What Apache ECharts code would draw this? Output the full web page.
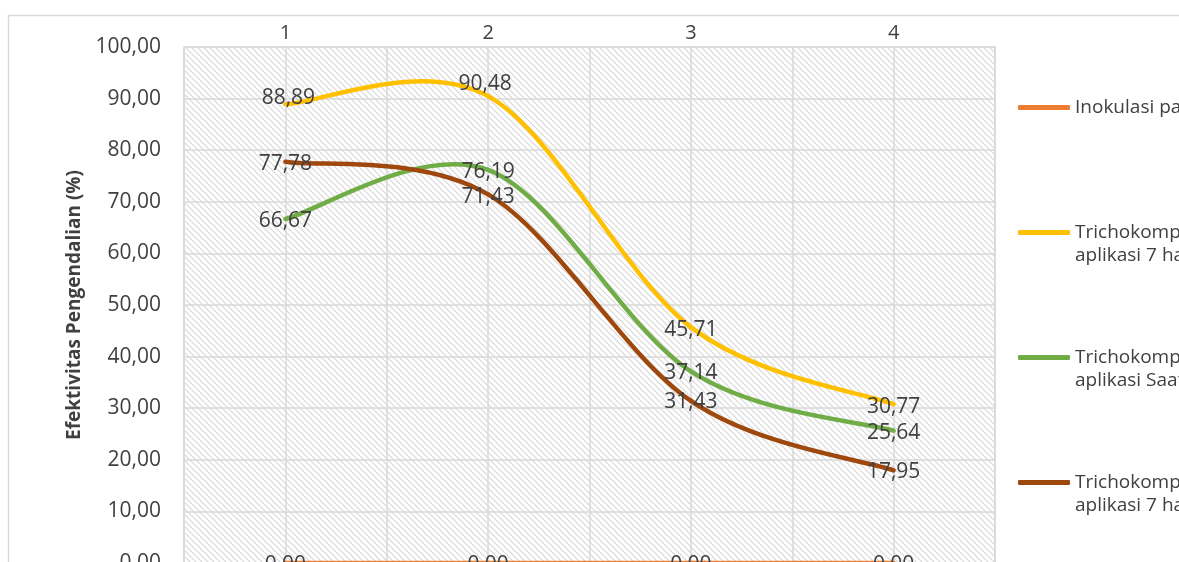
<!DOCTYPE html>
<html>
<head>
<meta charset="utf-8">
<script src="https://cdn.jsdelivr.net/npm/echarts@6/dist/echarts.min.js"></script>
<style>
  html, body { margin: 0; padding: 0; background: #fff; }
  #chart { width: 1179px; height: 562px; }
</style>
</head>
<body>
<div id="chart"></div>
<script>
// Observation periods (top axis)
const categories = ['1', '2', '3', '4'];

// Series names (legend)
const seriesNames = [
  'Inokulasi patogen',
  'Trichokompos +\naplikasi 7 hari sebelum inokulasi',
  'Trichokompos +\naplikasi Saat inokulasi',
  'Trichokompos +\naplikasi 7 hari setelah inokulasi'
];

// Control effectiveness (%)
const inokulasi = [0, 0, 0, 0];
const sebelum7 = [88.89, 90.48, 45.71, 30.77];
const saat = [66.67, 76.19, 37.14, 25.64];
const setelah7 = [77.78, 71.43, 31.43, 17.95];

// Y axis tick range
const yMin = 0, yMax = 100, yStep = 10;

const colors = ['#ED7D31', '#FFC000', '#70AD47', '#9E480E'];
const FONT = '"Open Sans", "Noto Sans", sans-serif';
const TEXT_COLOR = '#404040';

// Diagonal hatch tile for the plot background
function hatchTile() {
  const c = document.createElement('canvas');
  c.width = 6; c.height = 6;
  const g = c.getContext('2d');
  g.fillStyle = '#ffffff';
  g.fillRect(0, 0, 6, 6);
  g.strokeStyle = '#d8d8d8';
  g.lineWidth = 1.2;
  g.beginPath();
  g.moveTo(-1, -1); g.lineTo(7, 7);
  g.moveTo(-7, -1); g.lineTo(1, 7);
  g.moveTo(5, -1); g.lineTo(13, 7);
  g.stroke();
  return c;
}

function fmt(v) { return v.toFixed(2).replace('.', ','); }

// Per-point label nudges (px), by series then point
const labelOffsets = [
  [[0, 2], [0, 2], [0, 2], [0, 2]],
  [[3, -6], [-3, -12], [0, 3], [0, 3]],
  [[0, 2], [0, 2], [0, 2], [0, 2]],
  [[0, 2], [0, 3], [0, 1], [0, 2]]
];

const allData = [inokulasi, sebelum7, saat, setelah7];

// Cardinal-style cubic segments between neighbouring points (tension 1/6),
// endpoints reuse themselves as the outer neighbour.
function smoothSegments(pts) {
  const segs = [];
  for (let k = 0; k < pts.length - 1; k++) {
    const p0 = pts[Math.max(k - 1, 0)];
    const p1 = pts[k];
    const p2 = pts[k + 1];
    const p3 = pts[Math.min(k + 2, pts.length - 1)];
    segs.push({
      x1: p1[0], y1: p1[1],
      cpx1: p1[0] + (p2[0] - p0[0]) / 6, cpy1: p1[1] + (p2[1] - p0[1]) / 6,
      cpx2: p2[0] - (p3[0] - p1[0]) / 6, cpy2: p2[1] - (p3[1] - p1[1]) / 6,
      x2: p2[0], y2: p2[1]
    });
  }
  return segs;
}

const series = allData.map((vals, si) => ({
  name: seriesNames[si],
  type: 'custom',
  coordinateSystem: 'cartesian2d',
  clip: false,
  z: 2,
  encode: { x: 0, y: 1 },
  itemStyle: { color: colors[si] },
  data: vals.map((v, i) => [Number(categories[i]), v]),
  renderItem: (params, api) => {
    const i = params.dataIndex;
    const children = [];
    if (i === 0) {
      const pts = vals.map((v, k) => api.coord([Number(categories[k]), v]));
      smoothSegments(pts).forEach(s => {
        children.push({
          type: 'bezierCurve',
          shape: s,
          z2: 1 + si,
          style: { fill: null, stroke: colors[si], lineWidth: 4.5, lineCap: 'round' }
        });
      });
    }
    const p = api.coord([api.value(0), api.value(1)]);
    const off = labelOffsets[si][i];
    children.push({
      type: 'text',
      x: p[0] + off[0],
      y: p[1] + off[1],
      z2: 100,
      style: {
        text: fmt(api.value(1)),
        fill: TEXT_COLOR,
        font: '21px ' + FONT,
        align: 'center',
        verticalAlign: 'middle'
      }
    });
    return { type: 'group', children: children };
  }
}));

const chart = echarts.init(document.getElementById('chart'), null, { renderer: 'canvas' });

chart.setOption({
  animation: false,
  backgroundColor: '#ffffff',
  graphic: [{
    type: 'rect',
    silent: true,
    z: -10,
    shape: { x: 8.5, y: 15.5, width: 1300, height: 700 },
    style: { fill: 'none', stroke: '#d9d9d9', lineWidth: 1.5 }
  }],
  grid: {
    left: 184, right: 184, top: 47, bottom: -1,
    outerBoundsMode: 'none',
    containLabel: false,
    show: true,
    backgroundColor: { image: hatchTile(), repeat: 'repeat' },
    borderColor: '#d9d9d9',
    borderWidth: 1.5
  },
  legend: {
    orient: 'vertical',
    left: 1018,
    top: 73,
    padding: 0,
    itemGap: 56,
    itemWidth: 52,
    itemHeight: 5,
    icon: 'roundRect',
    // a leading blank line keeps the first text line level with the icon
    formatter: name => name.indexOf('\n') < 0 ? '\n' + name + '\n ' : '\n' + name,
    textStyle: {
      fontFamily: FONT,
      fontSize: 19,
      color: TEXT_COLOR,
      lineHeight: 23
    },
    data: seriesNames.map((n, i) => ({ name: n, itemStyle: { color: colors[i] } }))
  },
  xAxis: {
    type: 'value',
    position: 'top',
    min: 0.5, max: 4.5, interval: 0.5,
    axisLine: { show: false },
    axisTick: { show: false },
    axisLabel: {
      margin: 4,
      color: TEXT_COLOR,
      fontFamily: FONT,
      fontSize: 20,
      formatter: v => Number.isInteger(v) && v >= 1 && v <= 4 ? categories[v - 1] : ''
    },
    splitLine: { show: true, lineStyle: { color: '#d9d9d9', width: 1.5 } }
  },
  yAxis: {
    type: 'value',
    min: yMin, max: yMax, interval: yStep,
    name: 'Efektivitas Pengendalian (%)',
    nameLocation: 'middle',
    nameGap: 100,
    nameRotate: 90,
    nameTextStyle: { fontFamily: FONT, fontSize: 19, fontWeight: 'bold', color: TEXT_COLOR },
    axisLine: { show: false },
    axisTick: { show: false },
    axisLabel: {
      margin: 23,
      color: TEXT_COLOR,
      fontFamily: FONT,
      fontSize: 21,
      formatter: v => fmt(v)
    },
    splitLine: { show: true, lineStyle: { color: '#d9d9d9', width: 1.5 } }
  },
  series: series
});
</script>
</body>
</html>
